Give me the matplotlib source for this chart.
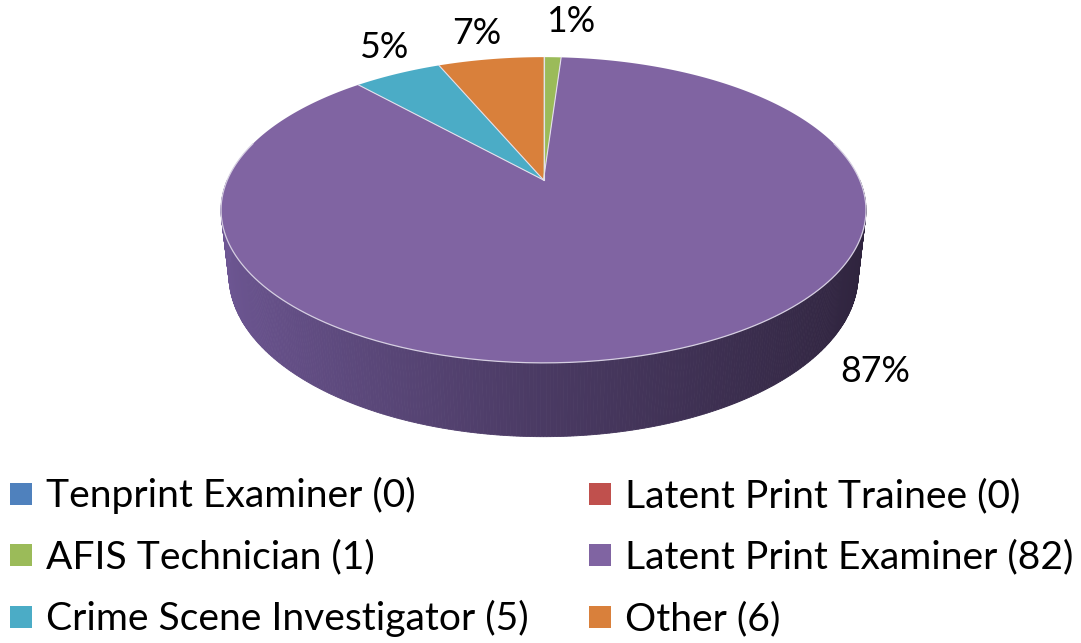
import numpy as np
import matplotlib.pyplot as plt
from matplotlib.patches import Polygon, Rectangle

# data
categories = ['Tenprint Examiner', 'Latent Print Trainee', 'AFIS Technician',
              'Latent Print Examiner', 'Crime Scene Investigator', 'Other']
counts = [0, 0, 1, 82, 5, 6]
pct_labels = ['', '', '1%', '87%', '5%', '7%']
colors = ['#4F81BD', '#C0504D', '#9BBB59', '#8064A2', '#4BACC6', '#D9803B']

# layout (pixels)
W, H = 1081, 643
cx, cy = 543.5, 180.0          # projected pie centre
elev = np.radians(27.7)
dist = 4.51
k = 1426.0
depth = 0.234
label_pos = {2: (571, 22), 3: (875, 372), 4: (385, 48), 5: (477, 33)}
FONT = ['Lato', 'Open Sans', 'DejaVu Sans']


def project(X, Y, Z=0.0):
    ce, se = np.cos(elev), np.sin(elev)
    d = dist + Y * ce - Z * se
    xs = X / d
    ys = (Y * se + Z * ce) / d
    return cx + k * xs, cy - k * ys


fig = plt.figure(figsize=(W / 100, H / 100), dpi=100)
ax = fig.add_axes([0, 0, 1, 1])
ax.set_xlim(0, W)
ax.set_ylim(H, 0)
ax.axis('off')
renderer = fig.canvas.get_renderer()


def fit_size(text, target_w, base=30):
    t = ax.text(0, 0, text, fontsize=base, family=FONT)
    w = t.get_window_extent(renderer).width
    t.remove()
    return base * target_w / w


# side of the cylinder
side_x = np.array([-1.0, 0.0, 1.0])
side_rgb = np.array([[0x6E, 0x57, 0x94], [0x4A, 0x3A, 0x63], [0x2E, 0x23, 0x3C]]) / 255
th = np.radians(np.linspace(90, 270, 361))
for a0, a1 in zip(th[:-1], th[1:]):
    xs0, ys0 = project(np.sin(a0), np.cos(a0))
    xs1, ys1 = project(np.sin(a1), np.cos(a1))
    xb0, yb0 = project(np.sin(a0), np.cos(a0), -depth)
    xb1, yb1 = project(np.sin(a1), np.cos(a1), -depth)
    xm = np.sin((a0 + a1) / 2)
    col = [np.interp(xm, side_x, side_rgb[:, c]) for c in range(3)]
    ax.add_patch(Polygon([(xs0, ys0), (xs1, ys1), (xb1, yb1), (xb0, yb0)],
                         closed=True, facecolor=col, edgecolor=col, lw=0.6))

# top face slices
total = sum(counts)
start = 0.0
edges = []
for i, v in enumerate(counts):
    if v == 0:
        continue
    span = v / total * 2 * np.pi
    a = np.linspace(start, start + span, max(int(span * 120), 4))
    px, py = project(np.sin(a), np.cos(a))
    pts = [(cx, cy)] + list(zip(px, py))
    ax.add_patch(Polygon(pts, closed=True, facecolor=colors[i], edgecolor='none'))
    edges.append(start)
    start += span

for a in edges:
    ex, ey = project(np.sin(a), np.cos(a))
    ax.plot([cx, ex], [cy, ey], color='#E4E0EC', lw=0.8)

rim = np.radians(np.linspace(75, 285, 300))
rx, ry = project(np.sin(rim), np.cos(rim))
ax.plot(rx, ry, color='#D6CFE2', lw=0.9)

# percentage labels
pct_size = fit_size('87%', 70)
for i, (lx, ly) in label_pos.items():
    ax.text(lx, ly, pct_labels[i], ha='center', va='center', fontsize=pct_size,
            family=FONT, color='black')

# legend
leg_size = fit_size('Crime Scene Investigator (5)', 482)
baselines = [507, 568, 630]
col_x = [10, 589]
for i, name in enumerate(categories):
    r, c = divmod(i, 2)
    x0 = col_x[c]
    ax.add_patch(Rectangle((x0, baselines[r] - 24), 22, 22, facecolor=colors[i], edgecolor='none'))
    ax.text(x0 + 36, baselines[r], f'{name} ({counts[i]})', ha='left', va='baseline',
            fontsize=leg_size, family=FONT, color='black')

fig.savefig('out.png', dpi=100, facecolor='white')
